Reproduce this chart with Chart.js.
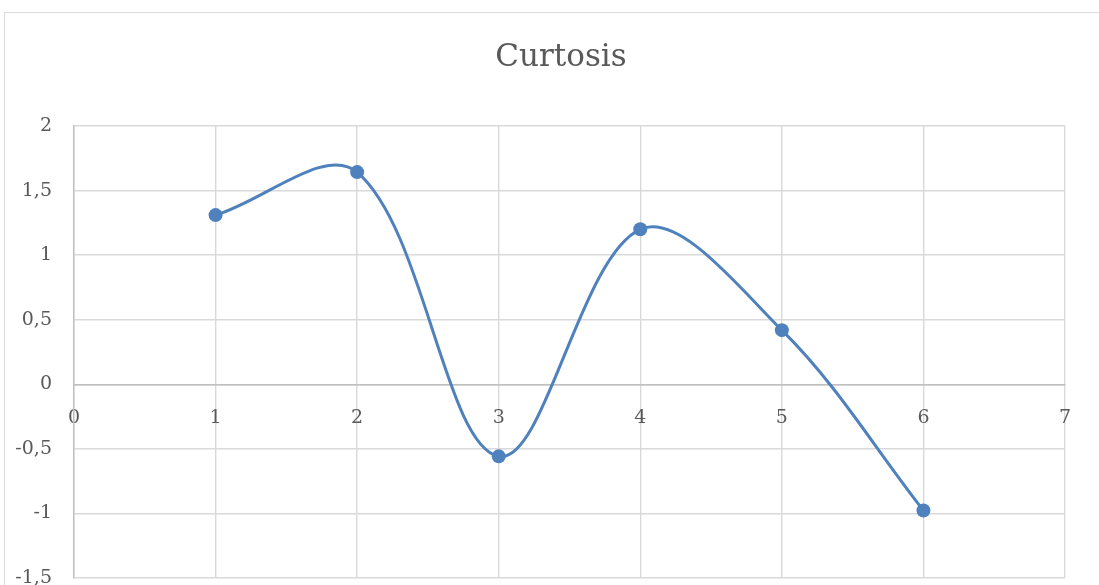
<!DOCTYPE html>
<html>
<head>
<meta charset="utf-8">
<script src="https://cdn.jsdelivr.net/npm/chart.js@4"></script>
<style>
  html, body { margin: 0; padding: 0; background: #fff; overflow: hidden; width: 1099px; height: 585px; }
  #frame { position: absolute; left: 4px; top: 12px; width: 1300px; height: 800px; border: 1px solid #d9d9d9; box-sizing: border-box; }
  #wrap { position: absolute; left: 0; top: 0; width: 1122px; height: 640px; }
</style>
</head>
<body>
<div id="frame"></div>
<div id="wrap"><canvas id="c" width="1122" height="640"></canvas></div>
<script>
const chartTitle = "Curtosis";
const xValues = [1, 2, 3, 4, 5, 6];
const yValues = [1.31, 1.643, -0.558, 1.20, 0.419, -0.977];
const xTicks = [0, 1, 2, 3, 4, 5, 6, 7];
const yTicks = [-1.5, -1, -0.5, 0, 0.5, 1, 1.5, 2];

const points = xValues.map((x, i) => ({ x: x, y: yValues[i] }));
const fmt = v => String(v).replace('.', ',');

new Chart(document.getElementById('c'), {
  type: 'scatter',
  data: {
    datasets: [{
      data: points,
      showLine: true,
      borderColor: '#4f81bd',
      backgroundColor: '#4f81bd',
      borderWidth: 3,
      pointRadius: 7,
      pointHoverRadius: 7,
      pointBorderWidth: 0,
      tension: 0.35,
      cubicInterpolationMode: 'default'
    }]
  },
  options: {
    responsive: false,
    animation: false,
    devicePixelRatio: 1,
    layout: { padding: { left: 0, right: 0, top: 0, bottom: 62 } },
    plugins: {
      legend: { display: false },
      tooltip: { enabled: false },
      title: {
        display: true,
        text: chartTitle,
        color: '#595959',
        font: { family: 'DejaVu Serif', size: 31, weight: 'normal' },
        padding: { top: 39, bottom: 49.8 }
      }
    },
    scales: {
      x: {
        type: 'linear',
        position: { y: 0 },
        min: xTicks[0],
        max: xTicks[xTicks.length - 1],
        afterFit: s => { s.height = 0; },
        afterBuildTicks: s => { s.ticks = xTicks.map(v => ({ value: v })); },
        grid: { color: '#d9d9d9', lineWidth: 1.4, drawTicks: false },
        border: { display: true, color: '#bfbfbf', width: 1.4 },
        ticks: {
          color: '#595959',
          font: { family: 'DejaVu Serif', size: 19 },
          padding: 22,
          maxRotation: 0,
          callback: v => fmt(v)
        }
      },
      y: {
        type: 'linear',
        position: 'left',
        min: yTicks[0],
        max: yTicks[yTicks.length - 1],
        afterFit: s => { s.width = 74; },
        afterBuildTicks: s => { s.ticks = yTicks.map(v => ({ value: v })); },
        grid: { color: '#d9d9d9', lineWidth: 1.4, drawTicks: false },
        border: { display: true, color: '#bfbfbf', width: 1.4 },
        ticks: {
          color: '#595959',
          font: { family: 'DejaVu Serif', size: 19 },
          padding: 22,
          callback: v => fmt(v)
        }
      },
      yRightSpace: {
        type: 'linear',
        position: 'right',
        min: yTicks[0],
        max: yTicks[yTicks.length - 1],
        afterFit: s => { s.width = 57; },
        grid: { display: false, drawTicks: false },
        border: { display: false },
        ticks: { display: false }
      }
    }
  }
});
</script>
</body>
</html>
